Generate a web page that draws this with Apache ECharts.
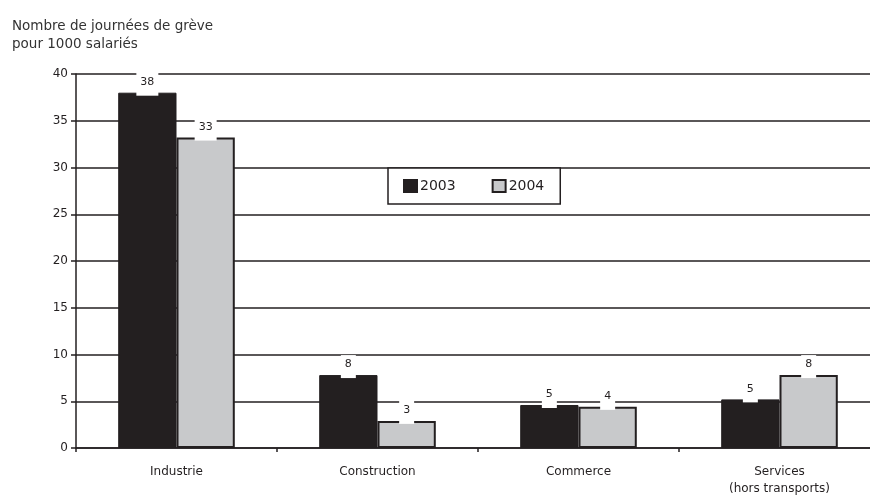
<!DOCTYPE html>
<html>
<head>
<meta charset="utf-8">
<script src="https://cdn.jsdelivr.net/npm/echarts@6/dist/echarts.min.js"></script>
<style>
  html, body { margin: 0; padding: 0; background: #ffffff; }
  #chart { width: 870px; height: 495px; }
</style>
</head>
<body>
<div id="chart"></div>
<script>
// Secteurs d'activité
const categories = ['Industrie', 'Construction', 'Commerce', 'Services\n(hors transports)'];
// Journées de grève pour 1000 salariés
const values2003 = [38.0, 7.8, 4.6, 5.2];
const values2004 = [33.2, 2.9, 4.4, 7.8];
const seriesNames = ['2003', '2004'];
const yTicks = [0, 5, 10, 15, 20, 25, 30, 35, 40];

const ink = '#231f20';
const grey = '#c8c9cb';
const font = '"DejaVu Sans", Verdana, sans-serif';

// Value labels sit on a white box that interrupts grid lines
const labelStyle = {
  show: true,
  position: 'top',
  distance: -3,
  color: ink,
  fontFamily: font,
  fontSize: 11,
  backgroundColor: '#ffffff',
  padding: [4, 4, 8, 4],
  formatter: p => Math.round(p.value)
};

const chart = echarts.init(document.getElementById('chart'), null, { renderer: 'canvas' });
chart.setOption({
  animation: false,
  backgroundColor: '#ffffff',
  title: {
    text: 'Nombre de journées de grève\npour 1000 salariés',
    left: 7,
    top: 12,
    textStyle: { fontFamily: font, fontSize: 13.5, fontWeight: 'normal', color: '#333333', lineHeight: 18 }
  },
  legend: {
    data: seriesNames,
    left: 388,
    top: 168,
    orient: 'horizontal',
    icon: 'rect',
    itemWidth: 13,
    itemHeight: 12,
    itemGap: 36,
    padding: [10, 16, 10, 15],
    backgroundColor: '#ffffff',
    borderColor: ink,
    borderWidth: 1.5,
    textStyle: { fontFamily: font, fontSize: 14, color: ink, padding: [0, 0, 0, -2], lineHeight: 16 }
  },
  grid: { left: 76, top: 74, width: 804, height: 374, containLabel: false, outerBoundsMode: 'none' },
  xAxis: {
    type: 'category',
    data: categories,
    axisLine: { lineStyle: { color: ink, width: 1.5 } },
    axisTick: { show: true, length: 4, lineStyle: { color: ink, width: 1.5 } },
    axisLabel: { color: ink, fontFamily: font, fontSize: 12, margin: 15, lineHeight: 17 }
  },
  yAxis: {
    type: 'value',
    min: yTicks[0],
    max: yTicks[yTicks.length - 1],
    interval: yTicks[1] - yTicks[0],
    axisLine: { show: true, lineStyle: { color: ink, width: 1.5 } },
    axisTick: { show: true, length: 5, lineStyle: { color: ink, width: 1.5 } },
    axisLabel: { color: ink, fontFamily: font, fontSize: 12, margin: 8 },
    splitLine: { lineStyle: { color: ink, width: 1.5 } }
  },
  series: [
    {
      name: seriesNames[0],
      type: 'bar',
      data: values2003,
      barGap: '0%',
      barCategoryGap: '42%',
      itemStyle: { color: ink, borderColor: ink, borderWidth: 1 },
      label: labelStyle
    },
    {
      name: seriesNames[1],
      type: 'bar',
      data: values2004,
      barGap: '0%',
      barCategoryGap: '42%',
      itemStyle: { color: grey, borderColor: ink, borderWidth: 2 },
      label: labelStyle
    }
  ]
});
</script>
</body>
</html>
